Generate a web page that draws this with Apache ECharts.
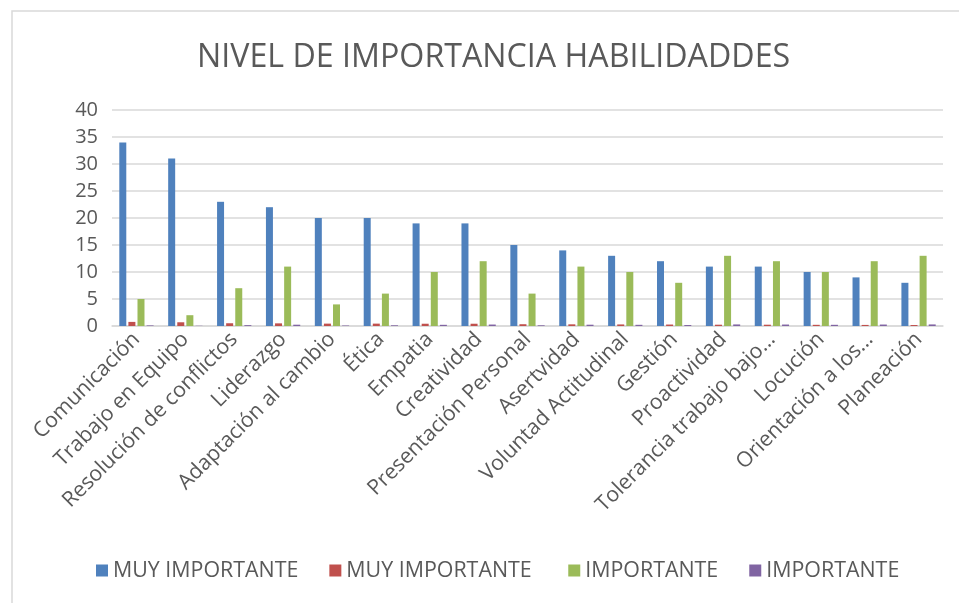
<!DOCTYPE html>
<html>
<head>
<meta charset="utf-8">
<script src="https://cdn.jsdelivr.net/npm/echarts@6/dist/echarts.min.js"></script>
<style>
html,body{margin:0;padding:0;background:#fff;}
#chart{width:959px;height:603px;}
</style>
</head>
<body>
<div id="chart"></div>
<script>
const categories = ["Comunicación","Trabajo en Equipo","Resolución de conflictos","Liderazgo","Adaptación al cambio","Ética","Empatia","Creatividad","Presentación Personal","Asertvidad","Voluntad Actitudinal","Gestión","Proactividad","Tolerancia trabajo bajo…","Locución","Orientación a los…","Planeación"];
const muyImportante = [34,31,23,22,20,20,19,19,15,14,13,12,11,11,10,9,8];
const muyImportantePct = [0.76,0.69,0.51,0.49,0.44,0.44,0.42,0.42,0.33,0.31,0.29,0.27,0.24,0.24,0.22,0.2,0.18];
const importante = [5,2,7,11,4,6,10,12,6,11,10,8,13,12,10,12,13];
const importantePct = [0.11,0.04,0.16,0.24,0.09,0.13,0.22,0.27,0.13,0.24,0.22,0.18,0.29,0.27,0.22,0.27,0.29];
const seriesNames = ["MUY IMPORTANTE","MUY IMPORTANTE ","IMPORTANTE","IMPORTANTE "];
const seriesColors = ["#4f81bd","#c0504d","#9bbb59","#8064a2"];
const yTicks = {min:0, max:40, interval:5};

const chart = echarts.init(document.getElementById('chart'));
const font = "'Open Sans', sans-serif";
const dataSets = [muyImportante, muyImportantePct, importante, importantePct];
chart.setOption({
  animation:false,
  backgroundColor:'#fff',
  graphic:[{type:'rect',shape:{x:12,y:11,width:1000,height:700},style:{fill:'none',stroke:'#d9d9d9',lineWidth:1.5},silent:true}],
  title:{text:'NIVEL DE IMPORTANCIA HABILIDADDES',left:192,top:37,
    textStyle:{fontFamily:font,fontSize:32.2,fontWeight:'normal',color:'#595959'}},
  legend:{bottom:17,left:91,itemWidth:12,itemHeight:12,itemGap:31,icon:'rect',
    data:seriesNames.map((n,i)=>({name:n,itemStyle:{color:seriesColors[i]}})),
    textStyle:{fontFamily:font,fontSize:21.4,color:'#595959'}},
  grid:{left:112,right:16,top:110,bottom:277,containLabel:false},
  xAxis:{type:'category',data:categories,
    axisLine:{lineStyle:{color:'#d9d9d9',width:1.5}},axisTick:{show:false},
    axisLabel:{rotate:45,interval:0,fontFamily:font,fontSize:21.2,color:'#595959',margin:10}},
  yAxis:{type:'value',min:yTicks.min,max:yTicks.max,interval:yTicks.interval,
    axisLine:{show:false},axisTick:{show:false},
    splitLine:{lineStyle:{color:'#d9d9d9',width:1.5}},
    axisLabel:{fontFamily:font,fontSize:20,color:'#595959',margin:14}},
  series:dataSets.map((d,i)=>({name:seriesNames[i],type:'bar',data:d,barWidth:7,barGap:'30%',
    itemStyle:{color:seriesColors[i]}}))
});
</script>
</body>
</html>
